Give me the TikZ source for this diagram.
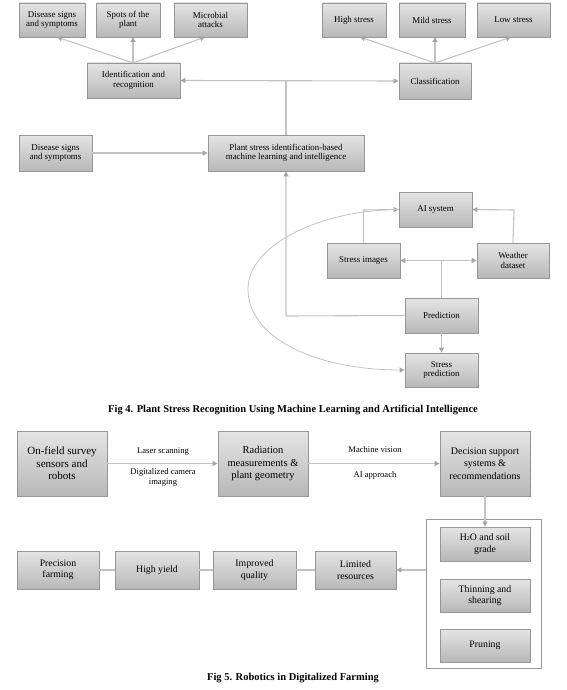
\documentclass[tikz,border=0pt]{standalone}
\usepackage{fontspec}
\setmainfont{Liberation Serif}
\usetikzlibrary{arrows.meta}
\definecolor{boxtop}{RGB}{228,228,228}
\definecolor{boxbot}{RGB}{184,184,184}
\definecolor{boxline}{RGB}{150,150,150}
\definecolor{conn}{RGB}{195,195,195}
\definecolor{tipc}{RGB}{165,165,165}
\tikzset{
  box/.style={draw=boxline, line width=0.8pt, top color=boxtop, bottom color=boxbot,
    align=center, inner sep=1pt, font=\fontsize{8.9}{9.6}\selectfont},
  bigbox/.style={box, font=\fontsize{10}{12.3}\selectfont},
  midbox/.style={box, font=\fontsize{9.8}{11.5}\selectfont},
  conline/.style={draw=conn, line width=1.1pt},
  arr/.style={conline, -{Triangle[length=5pt,width=5pt,color=tipc]}},
  darr/.style={conline, {Triangle[length=5pt,width=5pt,color=tipc]}-{Triangle[length=5pt,width=5pt,color=tipc]}},
  lbl/.style={align=center, inner sep=0pt, font=\fontsize{8.6}{10}\selectfont},
  figcap/.style={inner sep=0pt, font=\fontsize{10.5}{12}\selectfont\bfseries},
}
\newcommand{\bx}[6][box]{\node[#1, minimum width=#4pt, minimum height=#5pt] (#2) at #3 {#6};}
\begin{document}
\begin{tikzpicture}[x=1pt,y=-1pt]
\useasboundingbox (0,0) rectangle (566,690);
% ---------- Fig 4 ----------
\bx{d1}{(52,20)}{66}{34}{Disease signs\\and symptoms}
\bx{spots}{(128,20)}{64}{34}{Spots of the\\plant}
\bx{micro}{(210.5,20)}{73}{34}{Microbial\\attacks}
\bx{ident}{(133.5,80.5)}{93}{35}{Identification and\\recognition}
\bx{high}{(354,20)}{64}{34}{High stress}
\bx{mild}{(432,20)}{66}{34}{Mild stress}
\bx{low}{(513.5,20)}{73}{34}{Low stress}
\bx{classif}{(435,81)}{72}{36}{Classification}
\bx{d2}{(55.5,153)}{73}{36}{Disease signs\\and symptoms}
\bx{plant}{(286,153)}{156}{36}{Plant stress identification-based\\machine learning and intelligence}
\bx{ai}{(435.5,209.5)}{73}{35}{AI system}
\bx{simg}{(363.5,260.5)}{73}{35}{Stress images}
\bx{weather}{(513,260.5)}{72}{35}{Weather\\dataset}
\bx{pred}{(441.5,315.5)}{73}{35}{Prediction}
\bx{spred}{(441.5,370)}{73}{34}{Stress\\prediction}

\coordinate (itop) at (133,63);
\coordinate (ctop) at (435,63);
\draw[arr] (itop) -- (57,37);
\draw[arr] (itop) -- (133,37);
\draw[arr] (itop) -- (205,37);
\draw[arr] (ctop) -- (360,37);
\draw[arr] (ctop) -- (435,37);
\draw[arr] (ctop) -- (511,37);
\draw[darr] (ident.east) -- (classif.west);
\coordinate (jn) at (286,81);
\draw[conline] (jn) -- (plant.north);
\draw[arr] (d2.east) -- (plant.west);
\coordinate (pl) at (286,316);
\draw[arr] (pred.west) -- (pl) -- (plant.south);
\coordinate (sn) at (363.5,210);
\draw[arr] (simg.north) -- (sn) -- (ai.west);
\coordinate (wn) at (514,210);
\draw[arr] (weather.north) -- (wn) -- (ai.east);
\draw[darr] (simg.east) -- (weather.west);
\coordinate (pn) at (441.5,260.5);
\draw[conline] (pred.north) -- (pn);
\draw[arr] (pred.south) -- (spred.north);
\coordinate (cl) at (248,289);
\draw[draw=conn, line width=0.8pt, -{Triangle[length=5pt,width=5pt,color=tipc]}]
  (ai.west) .. controls (320,210) and (248,245) .. (cl)
  .. controls (248,340) and (320,370) .. (spred.west);

\node[figcap] (cap4) at (293,410) {Fig 4. Plant Stress Recognition Using Machine Learning and Artificial Intelligence};

% ---------- Fig 5 ----------
\bx[box, font=\fontsize{11}{12.6}\selectfont]{onf}{(62,463.5)}{90}{65}{On-field survey\\sensors and\\robots}
\bx[box, font=\fontsize{10.5}{12.3}\selectfont]{rad}{(263,463.5)}{90}{65}{Radiation\\measurements \&\\plant geometry}
\bx[bigbox]{dec}{(485,463.5)}{90}{65}{Decision support\\systems \&\\recommendations}
\node[lbl] (l1) at (163,452) {Laser scanning};
\node[lbl] (l2) at (163,477) {Digitalized camera\\imaging};
\node[lbl] (l3) at (375,450) {Machine vision};
\node[lbl] (l4) at (375,475) {AI approach};
\draw[arr] (onf.east) -- (rad.west);
\draw[arr] (rad.east) -- (dec.west);

\node[draw=boxline, line width=0.8pt, fill=white, minimum width=115pt, minimum height=149pt, inner sep=0pt] (cont) at (483.5,593.5) {};
\bx[midbox]{h2o}{(485,544)}{90}{34}{H{\fontsize{6}{6}\selectfont\raisebox{-0.3pt}{2}}O and soil\\grade}
\bx[midbox]{thin}{(485,595.5)}{90}{33}{Thinning and\\shearing}
\bx[midbox]{prun}{(485,645.5)}{90}{33}{Pruning}
\draw[arr] (dec.south) -- (h2o.north);

\bx[midbox]{lim}{(355.5,570)}{81}{38}{Limited\\resources}
\bx[midbox]{impr}{(254.5,570)}{83}{38}{Improved\\quality}
\bx[midbox]{hy}{(157,570)}{84}{38}{High yield}
\bx[midbox]{prec}{(58,570)}{82}{38}{Precision\\farming}
\draw[arr] (cont.west |- lim.east) -- (lim.east);
\draw[conline] (lim.west) -- (impr.east);
\draw[conline] (impr.west) -- (hy.east);
\draw[conline] (hy.west) -- (prec.east);

\node[figcap] (cap5) at (293,678) {Fig 5. Robotics in Digitalized Farming};
\end{tikzpicture}
\end{document}
